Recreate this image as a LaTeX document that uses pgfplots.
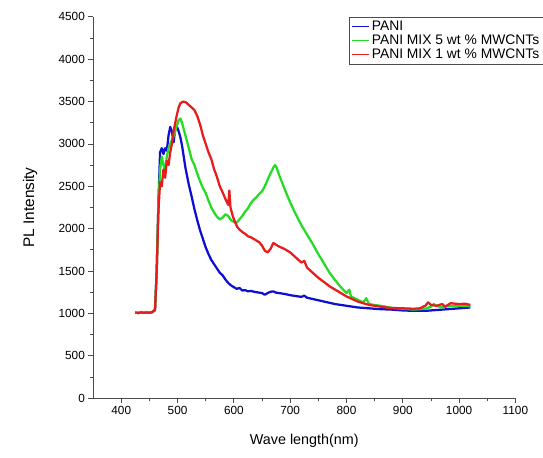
\documentclass[border={19pt 6pt 0pt 9pt}]{standalone}
\usepackage{pgfplots}
\pgfplotsset{compat=1.18}
\usepackage{fontspec}
\setmainfont{Liberation Sans}
\definecolor{txt}{RGB}{75,75,75}
\definecolor{pblue}{RGB}{15,15,210}
\definecolor{pgreen}{RGB}{35,220,35}
\definecolor{pred}{RGB}{232,28,28}
\begin{document}
\begin{tikzpicture}
\begin{axis}[
  scale only axis, width=412pt, height=372pt,
  xmin=350, xmax=1100, ymin=0, ymax=4500,
  axis x line*=bottom, axis y line*=left,
  axis line style={txt, line width=0.8pt},
  xtick={400,500,...,1100}, ytick={0,500,...,4500},
  minor x tick num=1, minor y tick num=1,
  tick align=outside, major tick length=4.5pt, minor tick length=3pt,
  tick style={txt, line width=0.7pt},
  ticklabel style={font=\fontsize{11.5}{13}\selectfont},
  /pgf/number format/assume math mode=true,
  /pgf/number format/1000 sep={},
  scaled y ticks=false,
  xlabel={Wave length(nm)}, ylabel={PL Intensity},
  xlabel style={font=\fontsize{14}{16}\selectfont, yshift=-12pt},
  ylabel style={font=\fontsize{15}{17}\selectfont, yshift=14pt},
  legend style={at={(0.607,1)}, anchor=north west, draw=txt,
    font=\fontsize{13.5}{15}\selectfont, inner sep=1.5pt,
    row sep=-1pt, cells={anchor=west}},
  legend image post style={line width=1.1pt},
  every axis plot/.append style={line width=2.2pt, line join=round},
]
\addplot[color=pblue] coordinates {
(425,1010)(430,1005)(435,1012)(440,1008)(445,1010)(450,1008)(455,1015)(460,1040)
(463,1500)(466,2300)(469,2900)(472,2950)(475,2880)(478,2950)(481,2920)(484,3100)
(487,3200)(490,3150)(493,3020)(496,3180)(499,3200)(502,3150)(505,3080)(508,2980)
(511,2850)(514,2720)(517,2620)(520,2520)(525,2380)(530,2230)(535,2100)(540,1980)
(545,1880)(550,1780)(555,1700)(560,1630)(565,1580)(570,1530)(575,1480)(580,1450)
(585,1400)(590,1360)(595,1330)(600,1310)(605,1290)(610,1300)(615,1270)(620,1275)
(625,1260)(630,1265)(640,1250)(650,1240)(655,1220)(660,1240)(665,1255)(670,1260)
(675,1245)(680,1240)(690,1230)(700,1215)(710,1205)(720,1195)(725,1210)(730,1185)
(740,1170)(750,1155)(760,1140)(770,1125)(780,1110)(790,1100)(800,1090)(810,1080)
(820,1070)(840,1060)(860,1050)(880,1045)(900,1035)(920,1030)(940,1030)(960,1040)
(980,1050)(1000,1060)(1020,1070)};
\addlegendentry{PANI}
\addplot[color=pgreen] coordinates {
(425,1010)(430,1005)(435,1012)(440,1008)(445,1010)(450,1008)(455,1015)(460,1040)
(463,1500)(466,2300)(469,2700)(472,2850)(475,2750)(478,2700)(481,2850)(484,2950)
(487,3000)(490,3050)(494,3100)(498,3200)(502,3280)(505,3300)(508,3250)(512,3150)
(516,3050)(520,2950)(525,2820)(530,2750)(535,2650)(540,2560)(545,2480)(550,2420)
(555,2330)(560,2250)(565,2190)(570,2140)(575,2110)(580,2130)(585,2170)(590,2150)
(595,2100)(600,2080)(605,2070)(610,2110)(615,2150)(620,2200)(625,2240)(630,2300)
(635,2340)(640,2370)(645,2410)(650,2440)(655,2500)(660,2580)(665,2650)(670,2720)
(673,2750)(676,2720)(680,2640)(690,2470)(700,2310)(710,2170)(720,2040)(730,1930)
(740,1820)(750,1700)(760,1590)(770,1480)(780,1390)(790,1310)(800,1240)(805,1280)
(808,1200)(820,1160)(830,1130)(835,1180)(840,1110)(850,1100)(860,1090)(870,1080)
(880,1065)(900,1055)(920,1045)(940,1055)(950,1080)(955,1110)(960,1090)(970,1070)
(980,1085)(1000,1090)(1020,1085)};
\addlegendentry{PANI MIX 5 wt \% MWCNTs}
\addplot[color=pred] coordinates {
(425,1010)(430,1005)(435,1012)(440,1008)(445,1010)(450,1008)(455,1015)(460,1040)
(463,1500)(466,2200)(469,2550)(472,2500)(475,2700)(478,2600)(481,2800)(484,2750)
(487,2900)(490,3000)(493,3150)(496,3250)(499,3350)(502,3430)(505,3480)(510,3500)
(515,3490)(520,3460)(525,3430)(530,3400)(535,3330)(540,3230)(545,3100)(550,3000)
(555,2900)(560,2820)(565,2700)(570,2610)(575,2500)(580,2430)(585,2350)(590,2280)
(592,2450)(594,2250)(598,2150)(602,2080)(606,2020)(610,1990)(615,1960)(620,1940)
(625,1910)(630,1900)(635,1880)(640,1860)(645,1840)(650,1800)(655,1740)(660,1720)
(665,1760)(670,1830)(675,1810)(680,1790)(690,1760)(700,1720)(710,1660)(720,1600)
(725,1620)(730,1540)(740,1480)(750,1420)(760,1370)(770,1320)(780,1280)(790,1240)
(800,1200)(810,1170)(820,1140)(830,1120)(840,1100)(850,1090)(860,1080)(870,1070)
(880,1065)(900,1060)(920,1055)(930,1060)(940,1090)(945,1130)(950,1100)(960,1090)
(970,1110)(975,1080)(985,1120)(1000,1110)(1010,1115)(1020,1100)};
\addlegendentry{PANI MIX 1 wt \% MWCNTs}
\end{axis}
\end{tikzpicture}
\end{document}
